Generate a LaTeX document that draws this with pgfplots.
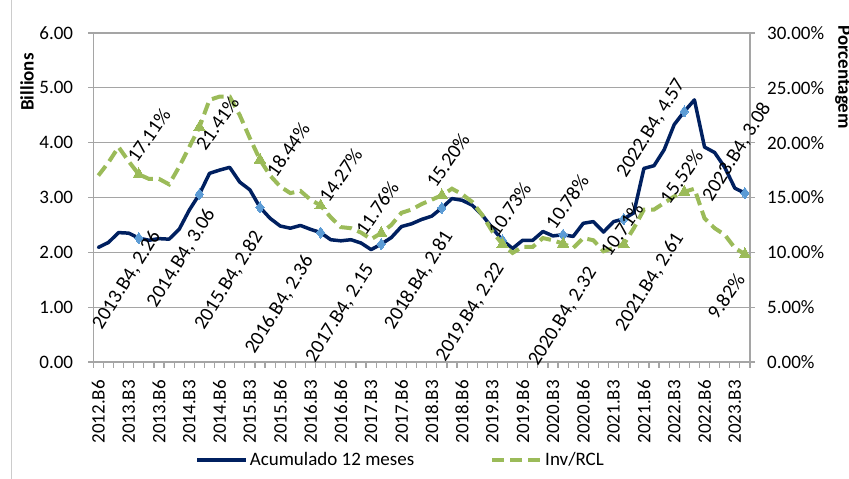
\documentclass[border=0pt]{standalone}
\usepackage{fontspec}
\setmainfont{Carlito}
\usepackage{pgfplots}
\usepackage{pgfplotstable}
\pgfplotsset{compat=1.18}

\definecolor{navy}{RGB}{0,32,96}
\definecolor{mblue}{RGB}{91,155,213}
\definecolor{olive}{RGB}{155,187,89}
\definecolor{axgray}{RGB}{165,165,165}

\newcommand\fs{\fontsize{19}{22}\selectfont}
\newcommand\fl{\fontsize{20}{23}\selectfont}

% bimonthly periods 2012.B6 ... 2023.B4
% acc: accumulated 12 months (billions), inv: Inv/RCL (%)
\pgfplotstableread{
i  acc   inv
0  2.09  17.00
1  2.18  18.20
2  2.36  19.60
3  2.35  18.30
4  2.26  17.11
5  2.22  16.70
6  2.25  16.70
7  2.24  16.20
8  2.42  17.80
9  2.77  19.60
10 3.06  21.41
11 3.44  23.90
12 3.50  24.20
13 3.55  24.20
14 3.28  22.50
15 3.14  20.40
16 2.82  18.44
17 2.62  17.00
18 2.48  16.00
19 2.44  15.40
20 2.49  15.60
21 2.42  14.80
22 2.36  14.27
23 2.23  13.20
24 2.21  12.30
25 2.23  12.20
26 2.17  11.80
27 2.05  11.20
28 2.15  11.76
29 2.27  12.50
30 2.47  13.60
31 2.52  13.90
32 2.60  14.40
33 2.66  14.80
34 2.81  15.20
35 2.98  15.80
36 2.95  15.30
37 2.86  14.60
38 2.68  13.40
39 2.44  11.90
40 2.22  10.73
41 2.07  9.95
42 2.22  10.50
43 2.22  10.50
44 2.38  11.30
45 2.30  11.10
46 2.32  10.78
47 2.29  10.40
48 2.53  11.30
49 2.56  11.10
50 2.37  10.10
51 2.56  10.40
52 2.61  10.71
53 2.72  12.20
54 3.53  13.90
55 3.58  13.90
56 3.87  14.50
57 4.33  15.10
58 4.57  15.52
59 4.78  15.80
60 3.92  13.10
61 3.82  12.20
62 3.55  11.60
63 3.17  10.40
64 3.08  9.82
}\datatable

\pgfplotsset{
  base/.style={
    scale only axis, width=656.7pt, height=329pt,
    at={(93.3pt,117pt)}, anchor=south west,
    xmin=-0.5, xmax=64.5,
    clip=false,
    axis line style={axgray, line width=1.2pt, -},
    tick style={axgray, line width=1.2pt},
    tick align=outside,
    major tick length=5pt, minor tick length=6pt,
    tick label style={font=\fs, text=black},
    /pgf/number format/assume math mode=true,
  },
}
\tikzset{
  blab/.style={rotate=58, font=\fl, inner sep=0pt},
  glab/.style={rotate=55, font=\fl, inner sep=0pt},
}

\begin{document}
\begin{tikzpicture}[x=1pt,y=1pt]
\path[use as bounding box] (0,0) rectangle (849,479);
\draw[gray!40, line width=1pt] (11.5,0) -- (11.5,479);

% left axis: accumulated 12 months, in billions
\begin{axis}[base,
  ymin=0, ymax=6, ytick={0,1,...,6},
  axis x line*=bottom, axis y line*=left,
  ymajorgrids, grid style={axgray, line width=1.2pt},
  xtick={0,3,...,63},
  xticklabels={2012.B6,2013.B3,2013.B6,2014.B3,2014.B6,2015.B3,2015.B6,2016.B3,2016.B6,2017.B3,2017.B6,2018.B3,2018.B6,2019.B3,2019.B6,2020.B3,2020.B6,2021.B3,2021.B6,2022.B3,2022.B6,2023.B3},
  minor xtick={-0.5,0.5,...,64.5},
  major x tick style={draw=none},
  xticklabel style={rotate=90, anchor=east, inner sep=0pt},
  xticklabel shift=13pt,
  yticklabel style={anchor=east, inner sep=0pt},
  yticklabel shift=15pt,
  yticklabel={\pgfmathprintnumber[fixed,fixed zerofill,precision=2]{\tick}},
  ylabel={Billions},
  ylabel style={at={(axis description cs:-0.101,0.851)}, anchor=center, font=\bfseries\fs},
]
\addplot[navy, line width=3.5pt, line join=round, line cap=round,
  mark=diamond*, mark repeat=6, mark phase=5, mark size=5.5pt,
  mark options={fill=mblue, draw=mblue, line width=0pt}]
  table[x=i, y=acc] {\datatable};
\end{axis}

% right axis: Inv/RCL, in percent
\begin{axis}[base,
  ymin=0, ymax=30, ytick={0,5,...,30},
  axis x line=none, axis y line*=right,
  yticklabel style={anchor=west, inner sep=0pt},
  yticklabel shift=12pt,
  yticklabel={\pgfmathprintnumber[fixed,fixed zerofill,precision=2]{\tick}\%},
  ylabel={Porcentagem},
  ylabel style={at={(axis description cs:1.1416,0.866)}, anchor=center, rotate=180, font=\bfseries\fs},
  legend columns=2,
  legend cell align=left,
  legend image code/.code={\draw[#1] (0pt,0pt) -- (49pt,0pt);},
  legend style={at={(axis description cs:0.155,-0.298)}, anchor=west,
    draw=none, fill=none, font=\fs, inner sep=0pt,
    /tikz/every even column/.append style={column sep=74pt}},
]
\addlegendimage{navy, line width=3.5pt}
\addlegendentry{Acumulado 12 meses}
\addplot[olive, line width=4pt, dash pattern=on 12pt off 6pt,
  mark=triangle*, mark repeat=6, mark phase=5, mark size=6.5pt,
  mark options={solid, fill=olive, draw=olive, line width=0pt}]
  table[x=i, y=inv] {\datatable};
\addlegendentry{Inv/RCL}

% labels of the accumulated series (values scaled to the percent axis)
\node[xshift=-12pt, yshift=-42pt, blab] at (axis cs:4,{2.26*5}) {2013.B4, 2.26};
\node[xshift=-18pt, yshift=-64pt, blab] at (axis cs:10,{3.06*5}) {2014.B4, 3.06};
\node[xshift=-31pt, yshift=-73pt, blab] at (axis cs:16,{2.82*5}) {2015.B4, 2.82};
\node[xshift=-41pt, yshift=-72pt, blab] at (axis cs:22,{2.36*5}) {2016.B4, 2.36};
\node[xshift=-41pt, yshift=-69pt, blab] at (axis cs:28,{2.15*5}) {2017.B4, 2.15};
\node[xshift=-23pt, yshift=-72pt, blab] at (axis cs:34,{2.81*5}) {2018.B4, 2.81};
\node[xshift=-32pt, yshift=-72pt, blab] at (axis cs:40,{2.22*5}) {2019.B4, 2.22};
\node[xshift=0pt,   yshift=-82pt, blab] at (axis cs:46,{2.32*5}) {2020.B4, 2.32};
\node[xshift=26pt,  yshift=-63pt, blab] at (axis cs:52,{2.61*5}) {2021.B4, 2.61};
\node[xshift=-33pt, yshift=-17pt, blab] at (axis cs:58,{4.57*5}) {2022.B4, 4.57};
\node[xshift=-8pt,  yshift=41pt,  blab] at (axis cs:64,{3.08*5}) {2023.B4, 3.08};

% labels of the Inv/RCL series
\node[xshift=10pt,  yshift=39pt,  glab] at (axis cs:4,17.11)  {17.11\%};
\node[xshift=18pt,  yshift=4pt,   glab] at (axis cs:10,21.41) {21.41\%};
\node[xshift=28pt,  yshift=10pt,  glab] at (axis cs:16,18.44) {18.44\%};
\node[xshift=20pt,  yshift=30pt,  glab] at (axis cs:22,14.27) {14.27\%};
\node[xshift=-4pt,  yshift=25pt,  glab] at (axis cs:28,11.76) {11.76\%};
\node[xshift=6pt,   yshift=35pt,  glab] at (axis cs:34,15.20) {15.20\%};
\node[xshift=7pt,   yshift=35pt,  glab] at (axis cs:40,10.73) {10.73\%};
\node[xshift=4pt,   yshift=42pt,  glab] at (axis cs:46,10.78) {10.78\%};
\node[xshift=-2pt,  yshift=15pt,  glab] at (axis cs:52,10.71) {10.71\%};
\node[xshift=-3pt,  yshift=15pt,  glab] at (axis cs:58,15.52) {15.52\%};
\node[xshift=-19pt, yshift=-42pt, glab] at (axis cs:64,9.82)  {9.82\%};
\end{axis}
\end{tikzpicture}
\end{document}
